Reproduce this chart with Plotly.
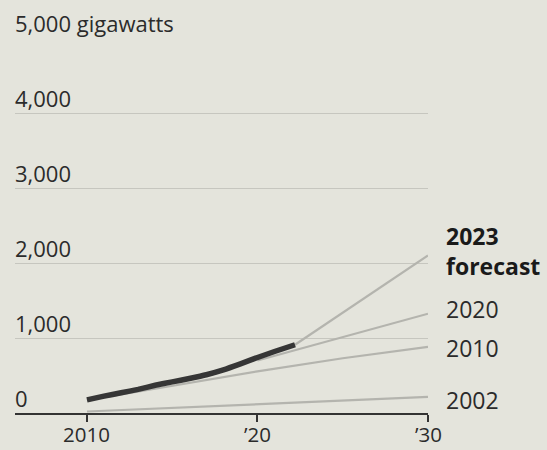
import plotly.graph_objects as go

# ---- data ----
actual_years = [2010, 2011, 2012, 2013, 2014, 2015, 2016, 2017, 2018, 2019, 2020, 2021, 2022.2]
actual_gw = [175, 225, 270, 315, 370, 415, 460, 510, 575, 655, 740, 820, 910]

f2023_years = [2022.2, 2030]
f2023_gw = [910, 2100]

f2020_years = [2020, 2025, 2030]
f2020_gw = [700, 1010, 1324]

f2010_years = [2010, 2015, 2020, 2025, 2030]
f2010_gw = [170, 365, 555, 730, 882]

f2002_years = [2010, 2030]
f2002_gw = [20, 214]

y_tick_vals = [0, 1000, 2000, 3000, 4000, 5000]
y_tick_text = ["0", "1,000", "2,000", "3,000", "4,000", "5,000 gigawatts"]
x_tick_vals = [2010, 2020, 2030]
x_tick_text = ["2010", "\u201920", "\u201930"]

forecast_labels = [
    ("<b>2023<br>forecast</b>", f2023_gw[-1], 5),
    ("2020", f2020_gw[-1], 5),
    ("2010", f2010_gw[-1], -1),
    ("2002", f2002_gw[-1], -3),
]

BG = "#e4e4dc"
FONT = "Open Sans"
TXT = "#2b2b2b"
LIGHT = "#b4b4ae"

fig = go.Figure()
for xs, ys in [(f2002_years, f2002_gw), (f2010_years, f2010_gw),
               (f2020_years, f2020_gw), (f2023_years, f2023_gw)]:
    fig.add_trace(go.Scatter(x=xs, y=ys, mode="lines",
                             line=dict(color=LIGHT, width=2.2),
                             hoverinfo="skip", showlegend=False))
fig.add_trace(go.Scatter(x=actual_years, y=actual_gw, mode="lines",
                         line=dict(color="#363636", width=5.5, shape="spline", smoothing=0.4),
                         hoverinfo="skip", showlegend=False))

annotations = []
for v, t in zip(y_tick_vals, y_tick_text):
    annotations.append(dict(x=0, xref="paper", y=v, yref="y", text=t,
                            xanchor="left", yanchor="middle", yshift=15, xshift=-2,
                            showarrow=False, font=dict(family=FONT, size=22, color=TXT)))
for v, t in zip(x_tick_vals, x_tick_text):
    annotations.append(dict(x=v, xref="x", y=0, yref="paper", text=t,
                            xanchor="center", yanchor="bottom", yshift=-36, borderpad=0,
                            showarrow=False, font=dict(family=FONT, size=20.5, color=TXT)))
for t, v, s in forecast_labels:
    annotations.append(dict(x=1, xref="paper", y=v, yref="y", text=t,
                            xanchor="left", yanchor="middle", xshift=16, yshift=s,
                            showarrow=False, align="left",
                            font=dict(family=FONT, size=23, color="#1a1a1a" if "<b>" in t else TXT)))

fig.update_layout(
    width=547, height=450,
    margin=dict(l=15, r=119, t=38, b=37, autoexpand=False),
    paper_bgcolor=BG, plot_bgcolor=BG,
    annotations=annotations,
    xaxis=dict(range=[2005.78, 2030], tickvals=x_tick_vals, showticklabels=False,
               showgrid=False, zeroline=False, showline=True, linecolor="#333333", linewidth=2,
               ticks="outside", ticklen=7, tickwidth=2, tickcolor="#333333", automargin=False,
               fixedrange=True),
    yaxis=dict(range=[0, 5000], tickvals=y_tick_vals, showticklabels=False,
               showgrid=True, gridcolor="#c6c6bf", gridwidth=1, zeroline=False,
               ticks="", fixedrange=True, automargin=False),
)

fig.write_html("out.html", config={"displayModeBar": False},
               post_script="document.body.style.margin='0';document.body.style.overflow='hidden';"
                           "document.body.style.background='" + BG + "';")
